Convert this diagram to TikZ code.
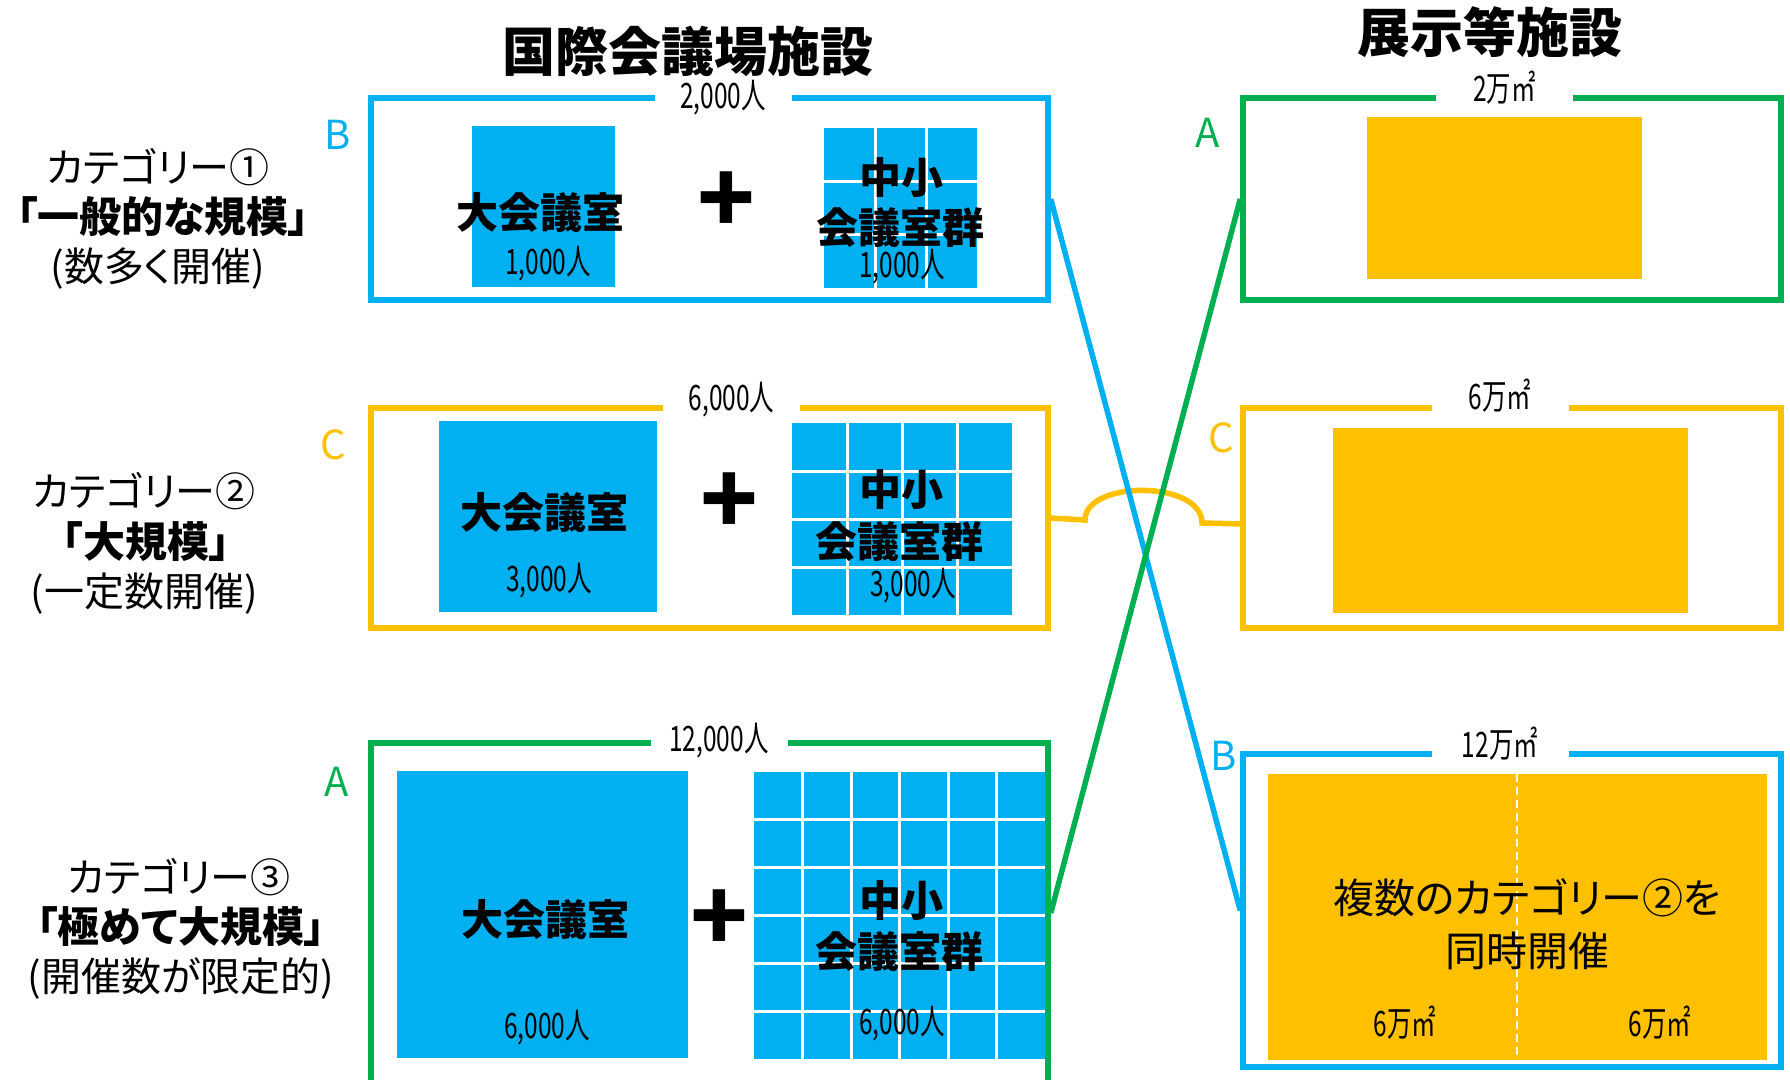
\documentclass[tikz,border=0pt]{standalone}
\usepackage{fontspec}
\newfontfamily\jp[RawFeature=+palt]{Noto Sans CJK JP}
\newfontfamily\num[FakeStretch=0.7]{Noto Sans CJK JP}
\definecolor{cblue}{HTML}{00B0F0}
\definecolor{corange}{HTML}{FFC000}
\definecolor{cgreen}{HTML}{00B050}
\tikzset{
  frame/.style={draw=#1, line width=5.5pt, inner sep=0pt},
  gaplbl/.style={fill=white, inner sep=0pt, minimum width=137pt, minimum height=32pt, font=\num\fontsize{35}{37}\selectfont},
  cnt/.style={inner sep=0pt, font=\num\fontsize{35}{37}\selectfont},
  roomtxt/.style={inner sep=0pt, font=\jp\bfseries\fontsize{42}{44}\selectfont},
  plussign/.style={inner sep=0pt, font=\jp\bfseries\fontsize{95}{95}\selectfont},
  cattxt/.style={inner sep=0pt, font=\jp\fontsize{40}{42}\selectfont},
  catbold/.style={inner sep=0pt, font=\jp\bfseries\fontsize{42}{44}\selectfont},
  letter/.style={inner sep=0pt, font=\jp\fontsize{40}{42}\selectfont, text=#1},
  titletxt/.style={inner sep=0pt, font=\jp\bfseries\fontsize{53}{55}\selectfont},
  link/.style={draw=#1, line width=5.5pt},
  gridline/.style={draw=white, line width=3pt},
}
\begin{document}
\begin{tikzpicture}[x=1pt,y=-1pt]
\useasboundingbox (0,0) rectangle (1790,1079);
\clip (0,0) rectangle (1790,1079);
\fill[white] (0,0) rectangle (1790,1079);

% titles
\node[titletxt] (t1) at (688,51) {国際会議場施設};
\node[titletxt] (t2) at (1490,32) {展示等施設};

% category labels
\node[cattxt] (c1a) at (158,167) {カテゴリー①};
\node[catbold] (c1b) at (163,217) {「一般的な規模」};
\node[cattxt] (c1c) at (158,269) {(数多く開催)};
\node[cattxt] (c2a) at (144,491) {カテゴリー②};
\node[catbold] (c2b) at (146,542) {「大規模」};
\node[cattxt] (c2c) at (144,594) {(一定数開催)};
\node[cattxt] (c3a) at (179,877) {カテゴリー③};
\node[catbold] (c3b) at (181,927) {「極めて大規模」};
\node[cattxt] (c3c) at (181,978) {(開催数が限定的)};

% large rooms
\fill[cblue] (472,126) rectangle (615,287);
\fill[cblue] (439,421) rectangle (657,612);
\fill[cblue] (397,771) rectangle (688,1058);

% small room groups
\fill[cblue] (824,128) rectangle (977,288);
\foreach \i in {1,2} {
  \draw[gridline] ({824+\i*51},128) -- ({824+\i*51},288);
  \draw[gridline] (824,{128+\i*53.3}) -- (977,{128+\i*53.3});
}
\fill[cblue] (792,423) rectangle (1012,615);
\foreach \i in {1,2,3} {
  \draw[gridline] ({792+\i*55},423) -- ({792+\i*55},615);
  \draw[gridline] (792,{423+\i*48}) -- (1012,{423+\i*48});
}
\fill[cblue] (754,772) rectangle (1045,1059);
\foreach \i in {1,...,5} {
  \draw[gridline] ({754+\i*48.5},772) -- ({754+\i*48.5},1059);
  \draw[gridline] (754,{772+\i*47.8}) -- (1045,{772+\i*47.8});
}

% exhibition areas
\fill[corange] (1367,117) rectangle (1642,279);
\fill[corange] (1333,428) rectangle (1688,613);
\fill[corange] (1268,774) rectangle (1767,1060);
\draw[white, line width=2pt, dash pattern=on 8pt off 5pt] (1517,774) -- (1517,1060);

% frames
\node[frame=cblue, minimum width=677pt, minimum height=202pt] (fB1) at (709.5,199) {};
\node[frame=corange, minimum width=677pt, minimum height=220pt] (fC1) at (709.5,518) {};
\node[frame=cgreen, minimum width=677pt, minimum height=340pt] (fA1) at (709.5,913) {};
\node[frame=cgreen, minimum width=538pt, minimum height=202pt] (fA2) at (1512,199) {};
\node[frame=corange, minimum width=538pt, minimum height=220pt] (fC2) at (1512,518) {};
\node[frame=cblue, minimum width=538pt, minimum height=313pt] (fB2) at (1512,910.5) {};

% capacity labels on frames
\node[gaplbl] (g1) at (723,98) {2,000人};
\node[gaplbl] (g2) at (731.5,400) {6,000人};
\node[gaplbl] (g3) at (719,741) {12,000人};
\node[gaplbl] (g4) at (1504.5,88) {2万㎡};
\node[gaplbl] (g5) at (1500,396) {6万㎡};
\node[gaplbl] (g6) at (1500,744) {12万㎡};

% rank letters
\node[letter=cblue] (lB1) at (338,135) {B};
\node[letter=corange] (lC1) at (333,445) {C};
\node[letter=cgreen] (lA1) at (337,782) {A};
\node[letter=cgreen] (lA2) at (1208,133) {A};
\node[letter=corange] (lC2) at (1221,438) {C};
\node[letter=cblue] (lB2) at (1224,756) {B};

% room texts, row 1
\node[roomtxt] (r1a) at (540,213) {大会議室};
\node[cnt] (n1a) at (548,264) {1,000人};
\node[plussign] (p1) at (726,203) {+};
\node[roomtxt] (r1b) at (901,178) {中小};
\node[roomtxt] (r1c) at (900,228) {会議室群};
\node[cnt] (n1b) at (902,267) {1,000人};
% row 2
\node[roomtxt] (r2a) at (544,513) {大会議室};
\node[cnt] (n2a) at (549,581) {3,000人};
\node[plussign] (p2) at (729,504) {+};
\node[roomtxt] (r2b) at (901,490) {中小};
\node[roomtxt] (r2c) at (899,542) {会議室群};
\node[cnt] (n2b) at (913,586) {3,000人};
% row 3
\node[roomtxt] (r3a) at (545,920) {大会議室};
\node[cnt] (n3a) at (547,1028) {6,000人};
\node[plussign] (p3) at (719,921) {+};
\node[roomtxt] (r3b) at (901,901) {中小};
\node[roomtxt] (r3c) at (899,952) {会議室群};
\node[cnt] (n3b) at (902,1024) {6,000人};

% exhibition texts
\node[inner sep=0pt, font=\jp\fontsize{41}{43}\selectfont] (e1) at (1527,898) {複数のカテゴリー②を};
\node[inner sep=0pt, font=\jp\fontsize{41}{43}\selectfont] (e2) at (1527,951) {同時開催};
\node[cnt] (e3) at (1405,1023) {6万㎡};
\node[cnt] (e4) at (1660,1023) {6万㎡};

% connectors
\coordinate (hopL) at (1085,520);
\coordinate (hopR) at (1202,523);
\draw[link=corange] (fC1.east) -- (hopL) .. controls (1085,480) and (1202,480) .. (hopR) -- (1243,524);
\draw[link=cblue] (fB1.east) -- (fB2.west);
\draw[link=cgreen] (fA1.east) -- (fA2.west);
\end{tikzpicture}
\end{document}
